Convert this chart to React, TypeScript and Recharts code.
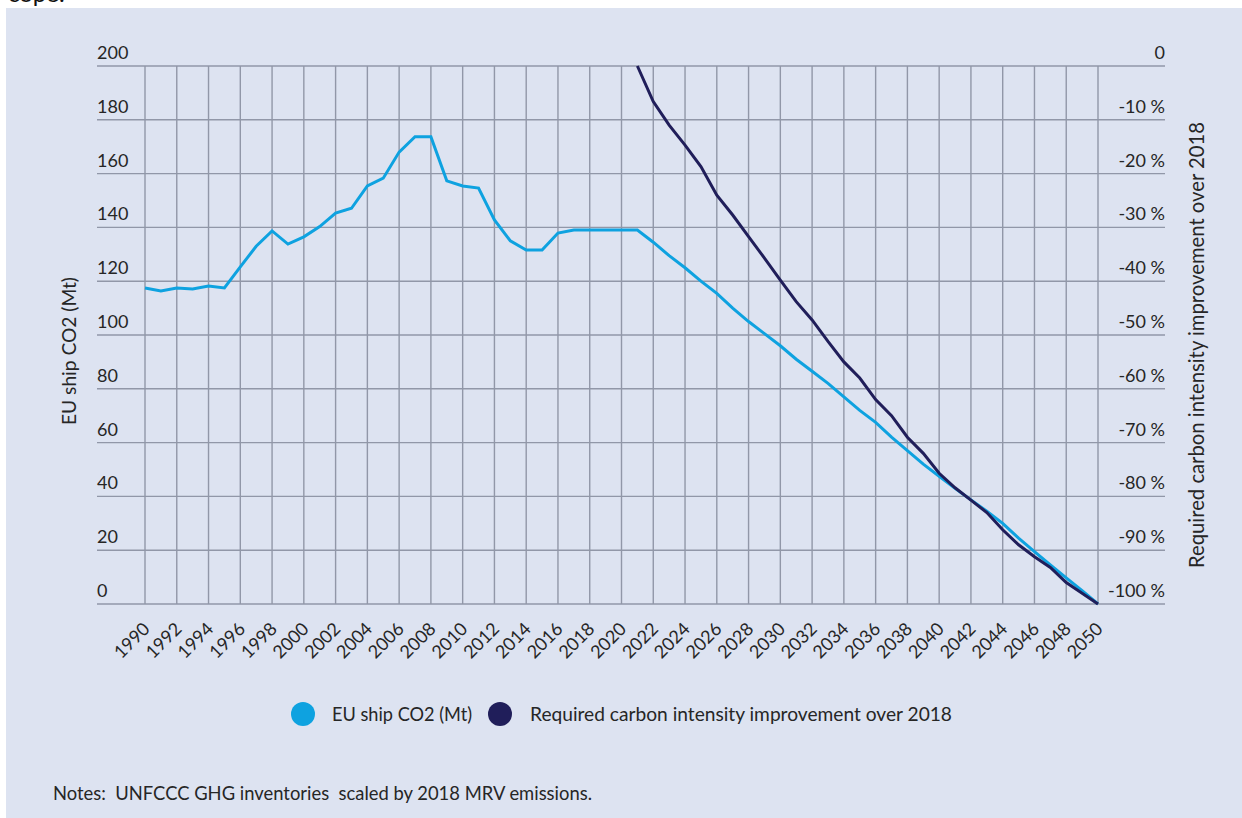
import React from 'react';
import { LineChart, Line, XAxis, YAxis, CartesianGrid, ReferenceLine } from 'recharts';

const years = [
  1990, 1991, 1992, 1993, 1994, 1995, 1996, 1997, 1998, 1999,
  2000, 2001, 2002, 2003, 2004, 2005, 2006, 2007, 2008, 2009,
  2010, 2011, 2012, 2013, 2014, 2015, 2016, 2017, 2018, 2019,
  2020, 2021, 2022, 2023, 2024, 2025, 2026, 2027, 2028, 2029,
  2030, 2031, 2032, 2033, 2034, 2035, 2036, 2037, 2038, 2039,
  2040, 2041, 2042, 2043, 2044, 2045, 2046, 2047, 2048, 2049,
  2050,
];

// EU ship CO2 (Mt)
const shipCO2 = [
  117.5, 116.4, 117.5, 117.1, 118.2, 117.5, 125.3, 133.0, 138.7, 133.8,
  136.5, 140.3, 145.3, 147.1, 155.4, 158.3, 168.0, 173.7, 173.7, 157.3,
  155.4, 154.6, 142.8, 135.0, 131.6, 131.6, 137.9, 139.0, 139.0, 139.0,
  139.0, 139.0, 134.5, 129.5, 125.0, 120.0, 115.5, 110.0, 105.0, 100.5,
  96.0, 91.0, 86.5, 82.0, 77.0, 72.0, 67.5, 62.0, 57.0, 52.0,
  47.5, 43.0, 38.7, 34.5, 30.0, 24.5, 19.5, 14.5, 9.7, 5.0,
  0.0,
];

// Required carbon intensity improvement over 2018 (%)
const intensityImprovement = [
  null, null, null, null, null, null, null, null, null, null,
  null, null, null, null, null, null, null, null, null, null,
  null, null, null, null, null, null, null, null, null, null,
  null, 0, -6.6, -11.0, -14.7, -18.7, -24.0, -27.7, -31.7, -35.7,
  -39.8, -43.8, -47.2, -51.2, -55.0, -58.0, -62.0, -65.0, -69.0, -72.0,
  -75.7, -78.4, -80.7, -83.0, -86.2, -89.0, -91.2, -93.2, -96.0, -98.0,
  -100.0,
];

const xTicks = [
  1990, 1992, 1994, 1996, 1998, 2000, 2002, 2004, 2006, 2008, 2010,
  2012, 2014, 2016, 2018, 2020, 2022, 2024, 2026, 2028, 2030, 2032,
  2034, 2036, 2038, 2040, 2042, 2044, 2046, 2048, 2050,
];
const leftTicks = [0, 20, 40, 60, 80, 100, 120, 140, 160, 180, 200];
const rightTicks = [-100, -90, -80, -70, -60, -50, -40, -30, -20, -10, 0];

const seriesNames = {
  co2: 'EU ship CO2 (Mt)',
  intensity: 'Required carbon intensity improvement over 2018',
};
const leftTitle = 'EU ship CO2 (Mt)';
const rightTitle = 'Required carbon intensity improvement over 2018';
const notesText = 'Notes:  UNFCCC GHG inventories  scaled by 2018 MRV emissions.';

const data = years.map((year, i) => ({
  year,
  co2: shipCO2[i],
  intensity: intensityImprovement[i],
}));

const FONT = 'Lato, "Noto Sans", sans-serif';
const TEXT = '#262626';
const LIGHT = '#0ea2e0';
const DARK = '#201e5a';
const BG = '#dde3f1';
const GRID = '#9197a8';

const LeftTick = (props: any) => {
  const { y, payload } = props;
  return (
    <text x={97} y={y - 7} textAnchor="start" fontFamily={FONT} fontSize={18} fill={TEXT}>
      {payload.value}
    </text>
  );
};

const RightTick = (props: any) => {
  const { y, payload } = props;
  const v = payload.value;
  return (
    <text x={1165} y={y - 7} textAnchor="end" fontFamily={FONT} fontSize={18} fill={TEXT}>
      {v === 0 ? '0' : `${v} %`}
    </text>
  );
};

const XTick = (props: any) => {
  const { x, payload } = props;
  return (
    <g transform={`translate(${x + 6},${630})`}>
      <text textAnchor="end" transform="rotate(-45)" fontFamily={FONT} fontSize={18} fill={TEXT}>
        {payload.value}
      </text>
    </g>
  );
};

export default function App() {
  return (
    <div style={{ position: 'absolute', left: 0, top: 0, width: 1242, height: 818, background: '#fff', overflow: 'hidden' }}>
      <div style={{ position: 'absolute', left: 6, top: 8, width: 1236, height: 810, background: BG }} />
      <svg width={1242} height={8} style={{ position: 'absolute', left: 0, top: 0 }}>
        <text x={8} y={2} fontFamily={FONT} fontSize={24} fill="#111">cope.</text>
      </svg>
      <div style={{ position: 'absolute', left: 0, top: 0 }}>
        <LineChart
          width={1242}
          height={818}
          data={data}
          margin={{ top: 66, left: 96, right: 76, bottom: 154 }}
        >
          <CartesianGrid stroke={GRID} strokeWidth={1.4} yAxisId="left" vertical={false} />
          <XAxis
            dataKey="year"
            type="number"
            domain={[1990, 2050]}
            ticks={xTicks}
            interval={0}
            padding={{ left: 48, right: 67 }}
            axisLine={false}
            tickLine={false}
            height={60}
            tick={<XTick />}
          />
          <YAxis
            yAxisId="left"
            domain={[0, 200]}
            ticks={leftTicks}
            interval={0}
            width={1}
            axisLine={false}
            tickLine={false}
            tick={<LeftTick />}
          />
          <YAxis
            yAxisId="right"
            orientation="right"
            domain={[-100, 0]}
            ticks={rightTicks}
            interval={0}
            width={1}
            axisLine={false}
            tickLine={false}
            tick={<RightTick />}
          />
          {xTicks.map((t) => (
            <ReferenceLine key={t} x={t} yAxisId="left" stroke={GRID} strokeWidth={1.4} />
          ))}
          <Line
            yAxisId="left"
            dataKey="co2"
            name={seriesNames.co2}
            stroke={LIGHT}
            strokeWidth={3}
            dot={false}
            isAnimationActive={false}
          />
          <Line
            yAxisId="right"
            dataKey="intensity"
            name={seriesNames.intensity}
            stroke={DARK}
            strokeWidth={3}
            dot={false}
            isAnimationActive={false}
          />
        </LineChart>
      </div>
      <svg width={1242} height={818} style={{ position: 'absolute', left: 0, top: 0, pointerEvents: 'none' }}>
        <text
          transform="translate(68,351) rotate(-90)"
          textAnchor="middle"
          dominantBaseline="central"
          fontFamily={FONT}
          fontSize={20}
          fill={TEXT}
          textLength={148}
          lengthAdjust="spacingAndGlyphs"
        >
          {leftTitle}
        </text>
        <text
          transform="translate(1195,345) rotate(-90)"
          textAnchor="middle"
          dominantBaseline="central"
          fontFamily={FONT}
          fontSize={21}
          fill={TEXT}
          textLength={446}
          lengthAdjust="spacingAndGlyphs"
        >
          {rightTitle}
        </text>
        <circle cx={303} cy={714} r={12} fill={LIGHT} />
        <text x={332} y={721} fontFamily={FONT} fontSize={19} fill={TEXT} textLength={140} lengthAdjust="spacingAndGlyphs">
          {seriesNames.co2}
        </text>
        <circle cx={500} cy={714} r={12} fill={DARK} />
        <text x={530} y={721} fontFamily={FONT} fontSize={19} fill={TEXT} textLength={422} lengthAdjust="spacingAndGlyphs">
          {seriesNames.intensity}
        </text>
        <text x={53} y={800} fontFamily={FONT} fontSize={19} fill={TEXT} textLength={539} lengthAdjust="spacingAndGlyphs" style={{ whiteSpace: 'pre' }}>
          {notesText}
        </text>
      </svg>
    </div>
  );
}
